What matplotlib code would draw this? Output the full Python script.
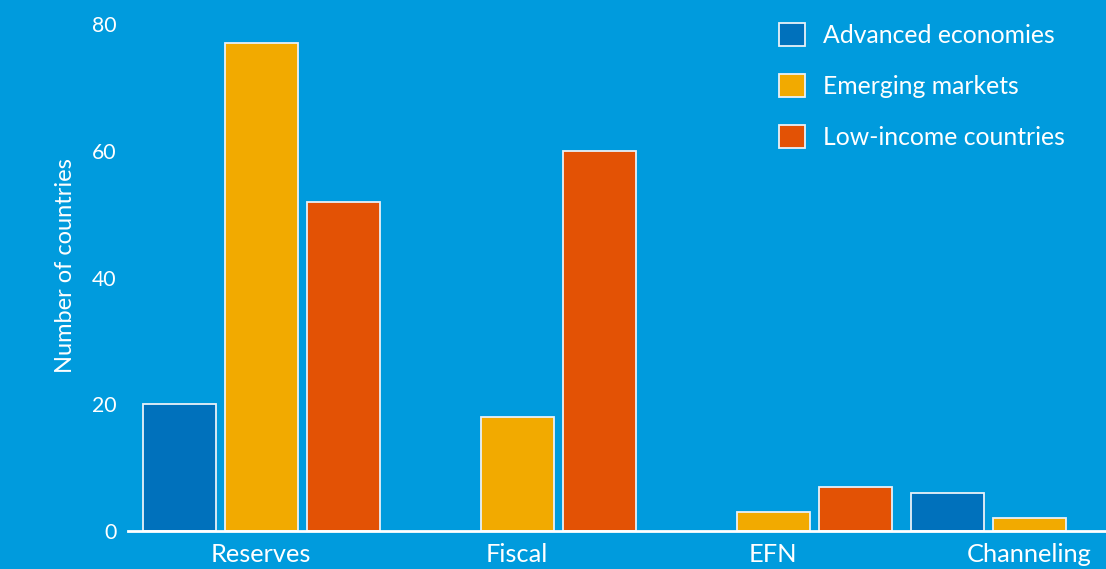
import matplotlib
matplotlib.use("Agg")
import matplotlib.pyplot as plt
import numpy as np

categories = ["Reserves", "Fiscal", "EFN", "Channeling"]
series_names = ["Advanced economies", "Emerging markets", "Low-income countries"]
advanced = [20, 0, 0, 6]
emerging = [77, 18, 3, 2]
low_income = [52, 60, 7, 0]
yticks = [0, 20, 40, 60, 80]

colors = ["#0071BC", "#F2AA00", "#E35205"]
bg = "#009BDD"

plt.rcParams['font.family'] = ['Lato', 'DejaVu Sans']

fig = plt.figure(figsize=(11.06, 5.69), dpi=100)
fig.patch.set_facecolor(bg)
ax = fig.add_axes([128/1106, 38/569, 978/1106, 531/569])
ax.set_facecolor(bg)

x = np.arange(len(categories))
width = 0.285
offset = 0.32
handles = []
for i, (vals, c, name) in enumerate(zip([advanced, emerging, low_income], colors, series_names)):
    xs = x + (i - 1) * offset
    mask = [v > 0 for v in vals]
    b = ax.bar(xs[mask], np.array(vals)[mask], width=width, color=c,
               edgecolor="#E8F1F8", linewidth=1.3, label=name, zorder=3)
    handles.append(b)

ax.set_xlim(-0.52, 3.30)
ax.set_ylim(0, 83.8)
ax.set_xticks(x)
ax.set_xticklabels(categories, color="white", fontsize=18.3)
ax.set_yticks(yticks)
ax.set_yticklabels([str(t) for t in yticks], color="white", fontsize=15.3)
ax.tick_params(axis='both', length=0)
ax.tick_params(axis='x', pad=9)
ax.tick_params(axis='y', pad=8)
for s in ["top", "right", "left"]:
    ax.spines[s].set_visible(False)
ax.spines["bottom"].set_color("white")
ax.spines["bottom"].set_linewidth(2)
ax.spines["bottom"].set_zorder(4)
ax.set_ylabel("Number of countries", color="white", fontsize=17, labelpad=12)

leg = fig.legend(handles=handles, labels=series_names, loc="upper left",
                 bbox_to_anchor=(779/1106, 1 - 23/569), frameon=False,
                 fontsize=17.8, handlelength=1.05, handleheight=1.05,
                 handletextpad=0.74, labelspacing=1.09, borderpad=0,
                 borderaxespad=0)
for t in leg.get_texts():
    t.set_color("white")

fig.savefig("out.png", dpi=100, facecolor=bg)
